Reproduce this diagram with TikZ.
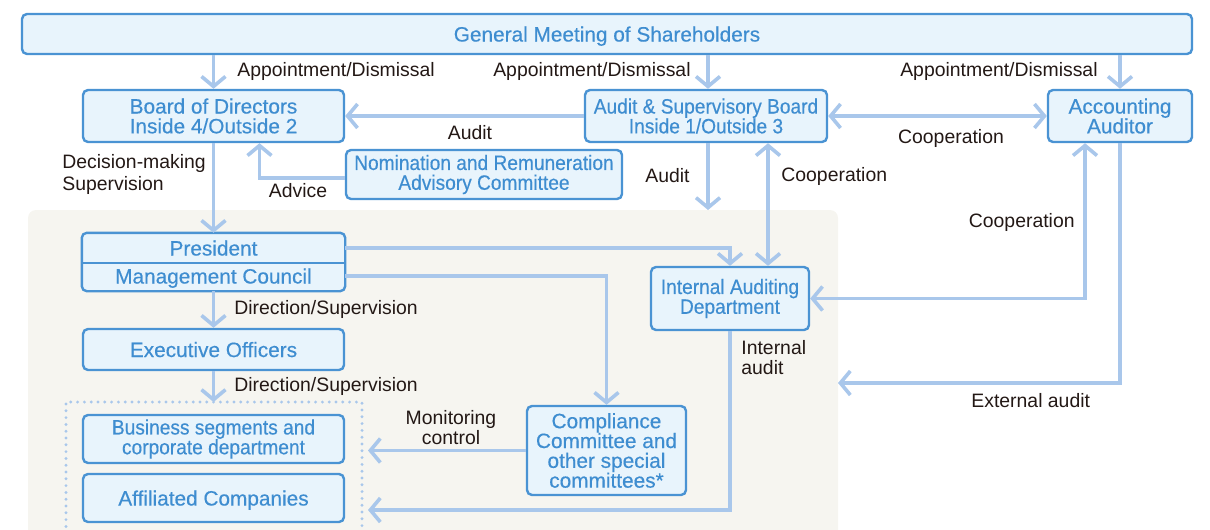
\documentclass[tikz,border=0pt]{standalone}
\usepackage{fontspec}
\setmainfont{Liberation Sans}
\usetikzlibrary{arrows.meta}
\definecolor{boxline}{HTML}{4A93D3}
\definecolor{boxfill}{HTML}{E8F4FC}
\definecolor{boxtext}{HTML}{3E8DD0}
\definecolor{flow}{HTML}{A9C7EB}
\definecolor{zone}{HTML}{F6F5F0}
\definecolor{labeltext}{HTML}{231815}

\begin{document}
\begin{tikzpicture}[x=0.5pt,y=-0.5pt,
      unit/.style={draw=boxline,fill=boxfill,text=boxtext,line width=1.2pt,
        rounded corners=2.5pt,align=center,inner sep=0pt,
        font=\fontsize{10.4}{9.9}\selectfont\addfontfeature{FakeBold=0.4}},
      narrow/.style={font=\fontsize{10.4}{9.9}\selectfont\addfontfeature{FakeBold=0.4,FakeStretch=0.92}},
      note/.style={text=labeltext,inner sep=0pt,
        font=\fontsize{9.7}{10}\selectfont},
      flowline/.style={draw=flow,line width=1.8pt},
      tip/.style={flowline,-{Straight Barb[length=5pt,width=12pt]}},
      both/.style={flowline,{Straight Barb[length=5pt,width=12pt]}-{Straight Barb[length=5pt,width=12pt]}},
      group/.style={draw=flow,line width=1.6pt,line cap=round,dash pattern=on 0pt off 3.4pt}
    ]
    \useasboundingbox (0,0) rectangle (1210,530);
    \fill[zone,rounded corners=4pt] (28,560) rectangle (838,210);

    \node[unit,minimum width=585pt,minimum height=20pt,text depth=0pt] (gm) at (607,34) {General Meeting of Shareholders};
    \node[unit,minimum width=130.5pt,minimum height=26pt] (board) at (213.5,116) {Board of Directors\\Inside 4/Outside 2};
    \node[unit,narrow,minimum width=121pt,minimum height=26pt] (asb) at (706,116) {Audit \& Supervisory Board\\Inside 1/Outside 3};
    \node[unit,minimum width=72pt,minimum height=26pt] (acc) at (1120,116) {Accounting\\Auditor};
    \node[unit,narrow,minimum width=138pt,minimum height=24.5pt] (nom) at (484,174.5) {Nomination and Remuneration\\Advisory Committee};
    \node[unit,draw=none,rounded corners=0pt,minimum width=130.5pt,minimum height=14pt,text depth=0pt] (pres) at (213.5,248) {President};
    \node[unit,draw=none,rounded corners=0pt,minimum width=130.5pt,minimum height=14pt,text depth=0pt] (council) at (213.5,276) {Management Council};
    \draw[boxline,line width=1.2pt,rounded corners=2.5pt] (pres.north west) rectangle (council.south east);
    \draw[boxline,line width=1.2pt] (pres.south west) -- (pres.south east);
    \node[unit,minimum width=130.5pt,minimum height=20.5pt,text depth=0pt] (eo) at (213.5,349.5) {Executive Officers};
    \node[unit,narrow,minimum width=130.5pt,minimum height=24pt] (biz) at (213.5,439) {Business segments and\\corporate department};
    \node[unit,minimum width=130.5pt,minimum height=24pt,text depth=0pt] (aff) at (213.5,498) {Affiliated Companies};
    \node[unit,minimum width=79.5pt,minimum height=44.5pt] (comp) at (606.5,450.5) {Compliance\\Committee and\\other special\\committees*};
    \node[unit,narrow,minimum width=79pt,minimum height=31.5pt] (iad) at (730,298.5) {Internal Auditing\\Department};

    \coordinate (grp-sw) at (66,540);
    \coordinate (grp-nw) at (66,402);
    \coordinate (grp-ne) at (362,402);
    \coordinate (grp-se) at (362,540);
    \draw[group] (grp-sw) -- (grp-nw) -- (grp-ne) -- (grp-se);
    \coordinate (grptop) at (213.5,402);
    \coordinate (mon) at (368,450.5);
    \coordinate (inaud) at (368,510);
    \coordinate (auditend) at (708,210);
    \coordinate (extend) at (838,383);

    \draw[tip] (gm.south -| board.north) -- (board.north);
    \draw[tip] (gm.south -| auditend) -- (asb.north -| auditend);
    \draw[tip] (gm.south -| acc.north) -- (acc.north);
    \draw[tip] (asb.west) -- (board.east);
    \draw[both] (asb.east) -- (acc.west);
    \draw[tip] ([yshift=-1.75pt]nom.west) -| ([xshift=23pt]board.south);
    \draw[tip] (board.south) -- (pres.north);
    \draw[tip] (asb.south -| auditend) -- (auditend);
    \draw[both] ([xshift=19pt]iad.north) -- ([xshift=19pt]iad.north |- asb.south);
    \draw[tip] (pres.east) -| (iad.north);
    \draw[tip] (council.east) -| (comp.north);
    \draw[both] ([xshift=-17.5pt]acc.south) |- (iad.east);
    \draw[tip] (acc.south) |- (extend);
    \draw[tip] (council.south) -- (eo.north);
    \draw[tip] (eo.south) -- (grptop);
    \draw[tip] (comp.west) -- (mon);
    \draw[tip] (iad.south) |- (inaud);

    \node[note,anchor=west] (l-appt1) at (237,71) {Appointment/Dismissal};
    \node[note,anchor=east] (l-appt2) at (691,71) {Appointment/Dismissal};
    \node[note,anchor=east] (l-appt3) at (1098,71) {Appointment/Dismissal};
    \node[note] (l-audit1) at (470,133) {Audit};
    \node[note] (l-coop1) at (951,138) {Cooperation};
    \node[note,anchor=west,align=left,font=\fontsize{9.7}{11}\selectfont] (l-decision) at (62,174) {Decision-making\\Supervision};
    \node[note] (l-advice) at (298,191) {Advice};
    \node[note,anchor=east] (l-audit2) at (690,176) {Audit};
    \node[note,anchor=west] (l-coop2) at (781,176) {Cooperation};
    \node[note,anchor=east] (l-coop3) at (1075,222) {Cooperation};
    \node[note,anchor=west] (l-dir1) at (234,309) {Direction/Supervision};
    \node[note,anchor=west] (l-dir2) at (234,386) {Direction/Supervision};
    \node[note,anchor=west,align=left] (l-internal) at (741,358) {Internal\\audit};
    \node[note,anchor=west] (l-external) at (971,401) {External audit};
    \node[note,align=center] (l-monitor) at (451,428) {Monitoring\\control};
  \end{tikzpicture}
\end{document}
